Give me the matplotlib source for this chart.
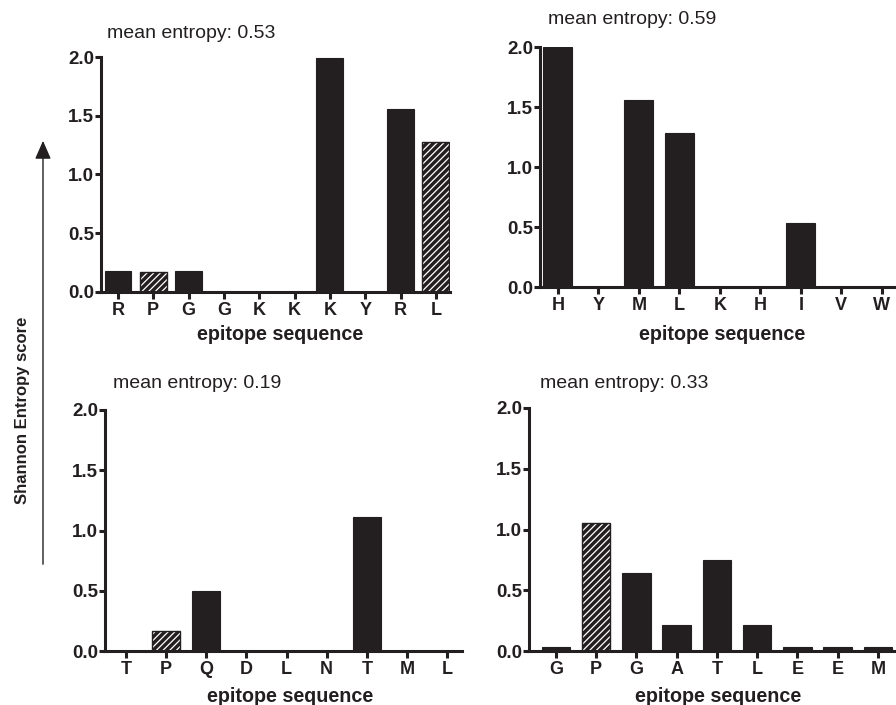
import matplotlib.pyplot as plt
from matplotlib.patches import FancyArrowPatch

plt.rcParams["font.family"] = ["Liberation Sans", "DejaVu Sans"]
plt.rcParams["hatch.linewidth"] = 0.9

BAR = "#231f20"
W, H = 896, 705

# residue labels and Shannon entropy per position, one set per epitope
p1_labels = ["R", "P", "G", "G", "K", "K", "K", "Y", "R", "L"]
p1_values = [0.18, 0.17, 0.18, 0.0, 0.0, 0.0, 1.99, 0.0, 1.56, 1.28]
p1_hatched = [1, 9]

p2_labels = ["H", "Y", "M", "L", "K", "H", "I", "V", "W"]
p2_values = [2.0, 0.0, 1.56, 1.28, 0.0, 0.0, 0.53, 0.0, 0.0]
p2_hatched = []

p3_labels = ["T", "P", "Q", "D", "L", "N", "T", "M", "L"]
p3_values = [0.0, 0.17, 0.50, 0.0, 0.0, 0.0, 1.11, 0.0, 0.0]
p3_hatched = [1]

p4_labels = ["G", "P", "G", "A", "T", "L", "E", "E", "M"]
p4_values = [0.03, 1.05, 0.64, 0.21, 0.75, 0.21, 0.03, 0.03, 0.03]
p4_hatched = [1]

mean_entropy = ["0.53", "0.59", "0.19", "0.33"]


def px_rect(left, top, right, bottom):
    return [left / W, 1 - bottom / H, (right - left) / W, (bottom - top) / H]


# (axes rect in pixels, xlim, bar width, title pos, xlabel pos)
panels = [
    (p1_labels, p1_values, p1_hatched, px_rect(101, 57, 450, 292), (-0.48, 9.4), 0.76, (107, 33), (280, 335)),
    (p2_labels, p2_values, p2_hatched, px_rect(540, 47, 898, 287), (-0.44, 8.4), 0.72, (548, 20), (722, 335)),
    (p3_labels, p3_values, p3_hatched, px_rect(105, 410, 462, 651), (-0.52, 8.37), 0.70, (113, 383), (290, 697)),
    (p4_labels, p4_values, p4_hatched, px_rect(529, 408, 898, 651), (-0.67, 8.5), 0.71, (540, 383), (718, 697)),
]

fig = plt.figure(figsize=(W / 100, H / 100), dpi=100)

for (labels, values, hatched, rect, xlim, width, tpos, lpos), mean in zip(panels, mean_entropy):
    ax = fig.add_axes(rect)
    x = list(range(len(labels)))
    plain = [i for i in x if i not in hatched]
    ax.bar(plain, [values[i] for i in plain],
           width=width, color=BAR, edgecolor=BAR, linewidth=0.8, zorder=2)
    if hatched:
        hv = [values[i] for i in hatched]
        ax.bar(hatched, hv, width=width, color=BAR, edgecolor="white", hatch="/////",
               linewidth=0, zorder=2)
        ax.bar(hatched, hv, width=width, color="none", edgecolor=BAR, linewidth=1.0, zorder=3)

    ax.set_xlim(*xlim)
    ax.set_ylim(0, 2.0)
    ax.set_yticks([0.0, 0.5, 1.0, 1.5, 2.0])
    ax.set_yticklabels(["0.0", "0.5", "1.0", "1.5", "2.0"])
    ax.set_xticks(x)
    ax.set_xticklabels(labels)
    for s in ["top", "right"]:
        ax.spines[s].set_visible(False)
    for s in ["left", "bottom"]:
        ax.spines[s].set_linewidth(2.2)
        ax.spines[s].set_color(BAR)
        ax.spines[s].set_zorder(4)
    ax.tick_params(axis="y", length=4, width=2.2, pad=1, labelsize=13.5, colors=BAR)
    ax.tick_params(axis="x", length=5, width=2.2, pad=2, labelsize=13, colors=BAR)
    for t in ax.get_xticklabels() + ax.get_yticklabels():
        t.set_fontweight("bold")

    fig.text(tpos[0] / W, 1 - tpos[1] / H, f"mean entropy: {mean}",
             fontsize=14, ha="left", va="center", color=BAR)
    fig.text(lpos[0] / W, 1 - lpos[1] / H, "epitope sequence",
             fontsize=14.2, fontweight="bold", ha="center", va="center", color=BAR)

# shared y label with arrow
fig.text(22 / W, 1 - 410 / H, "Shannon Entropy score", rotation=90,
         fontsize=12, fontweight="bold", ha="center", va="center", color=BAR)
fig.add_artist(FancyArrowPatch(
    (43 / W, 1 - 567 / H), (43 / W, 1 - 138 / H), transform=fig.transFigure,
    arrowstyle="-|>,head_length=0.8,head_width=0.35", mutation_scale=14,
    linewidth=1.0, color=BAR))

fig.savefig("out.png", dpi=100)
